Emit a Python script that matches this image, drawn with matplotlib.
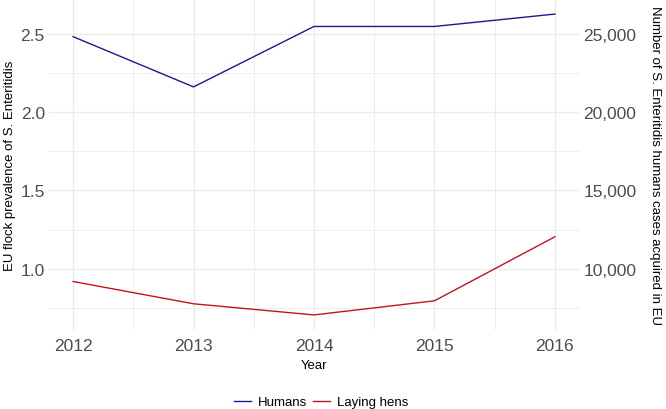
import matplotlib
matplotlib.use("Agg")
import matplotlib.pyplot as plt
from matplotlib.ticker import FuncFormatter, MultipleLocator
from matplotlib.lines import Line2D

years = [2012, 2013, 2014, 2015, 2016]
humans_cases = [24800, 21600, 25450, 25450, 26240]
laying_hens_prev = [0.92, 0.778, 0.707, 0.797, 1.205]
scale = 10000.0

plt.rcParams['font.family'] = ['Liberation Sans', 'DejaVu Sans']

fig = plt.figure(figsize=(6.66, 4.10), dpi=100)
ax = fig.add_axes([49/666, 1 - 331/410, 530/666, 331/410])

grid_c = '#EBEBEB'
ax.set_axisbelow(True)
ax.plot(years, [h / scale for h in humans_cases], color='#1A1A8C', lw=1.0, zorder=3)
ax.plot(years, laying_hens_prev, color='#C0141E', lw=1.0, zorder=3)

ax.set_xlim(2011.8, 2016.2)
ax.set_ylim(0.611, 2.72)
ax.set_xticks(years)
ax.set_xticks([2012.5, 2013.5, 2014.5, 2015.5], minor=True)
ax.yaxis.set_major_locator(MultipleLocator(0.5))
ax.yaxis.set_minor_locator(MultipleLocator(0.25))
ax.yaxis.set_major_formatter(FuncFormatter(lambda v, p: f"{v:.1f}"))
ax.grid(True, which='major', color=grid_c, lw=1.0)
ax.grid(True, which='minor', color=grid_c, lw=0.6)
for s in ax.spines.values():
    s.set_visible(False)
ax.tick_params(which='both', length=0)
ax.tick_params(axis='both', labelsize=12.5, labelcolor='#4D4D4D')
ax.tick_params(axis='x', pad=6)
ax.tick_params(axis='y', pad=3)
ax.set_xlabel('Year', fontsize=9.5, color='black', labelpad=4)
ax.set_ylabel('EU flock prevalence of S. Enteritidis', fontsize=9.5, color='black', labelpad=3)

ax2 = ax.twinx()
ax2.set_ylim(0.611 * scale, 2.72 * scale)
ax2.yaxis.set_major_locator(MultipleLocator(5000))
ax2.yaxis.set_major_formatter(FuncFormatter(lambda v, p: f"{int(v):,}"))
for s in ax2.spines.values():
    s.set_visible(False)
ax2.tick_params(which='both', length=0, labelsize=12.5, labelcolor='#4D4D4D', pad=3)
ax2.set_ylabel('Number of S. Enteritidis humans cases acquired in EU', fontsize=9.5,
               color='black', rotation=-90, labelpad=18)

handles = [Line2D([], [], color='#1A1A8C', lw=1.0), Line2D([], [], color='#C0141E', lw=1.0)]
fig.legend(handles, ['Humans', 'Laying hens'], loc='center', bbox_to_anchor=(321/666, 1 - 403/410),
           ncol=2, frameon=False, fontsize=9.5, handlelength=1.3, columnspacing=0.45,
           handletextpad=0.5)

fig.savefig('out.png', dpi=100)
